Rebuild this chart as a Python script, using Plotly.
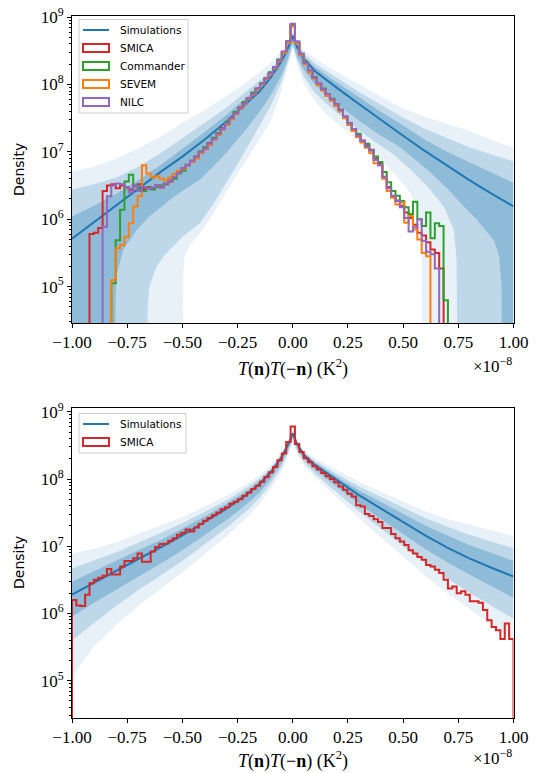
import numpy as np
import plotly.graph_objects as go

W, H = 536, 773

# ---------------- data (x in units of 1e-8 K^2, densities as log10) ----------------
n_bins = 101  # histogram bins spanning [-1, 1], one bin centred on 0

# --- top panel: simulation median and percentile bands
sim_x = [-1.0, -0.9, -0.8, -0.7, -0.6, -0.5, -0.4, -0.3, -0.2, -0.15, -0.1, -0.05, -0.02, 0.0,
         0.02, 0.05, 0.1, 0.15, 0.2, 0.3, 0.4, 0.5, 0.6, 0.7, 0.8, 0.9, 1.0]
sim_top_log = [5.71, 5.96, 6.21, 6.45, 6.70, 6.93, 7.18, 7.45, 7.74, 7.90, 8.10, 8.35, 8.55, 8.72,
               8.55, 8.38, 8.20, 8.07, 7.95, 7.71, 7.47, 7.24, 7.01, 6.79, 6.58, 6.38, 6.19]
outer_up_top_log = [6.71, 6.78, 6.90, 7.05, 7.22, 7.43, 7.62, 7.83, 8.06, 8.18, 8.32, 8.50, 8.65, 8.78,
                    8.64, 8.52, 8.38, 8.28, 8.19, 8.00, 7.82, 7.64, 7.52, 7.42, 7.31, 7.18, 7.06]
mid_up_top_log = [6.44, 6.52, 6.62, 6.78, 6.98, 7.20, 7.43, 7.66, 7.93, 8.06, 8.22, 8.43, 8.60, 8.76,
                  8.60, 8.46, 8.31, 8.20, 8.10, 7.89, 7.70, 7.51, 7.34, 7.20, 7.07, 6.96, 6.86]
inner_up_top_log = [6.04, 6.20, 6.38, 6.58, 6.80, 7.04, 7.29, 7.55, 7.83, 7.98, 8.16, 8.39, 8.58, 8.75,
                    8.58, 8.42, 8.26, 8.14, 8.03, 7.81, 7.59, 7.39, 7.18, 7.00, 6.85, 6.70, 6.54]
# lower percentiles (3.0 == empty, below the axis)
inner_lo_top_x = [-1.0, -0.806, -0.803, -0.797, -0.767, -0.707, -0.65, -0.6, -0.556, -0.5, -0.42, -0.35,
                  -0.3, -0.25, -0.2, -0.15, -0.1, -0.05, -0.02, 0.0, 0.02, 0.05, 0.1, 0.15, 0.2, 0.3,
                  0.4, 0.457, 0.5, 0.609, 0.7, 0.76, 0.835, 0.911, 0.935, 0.946, 0.949, 1.0]
inner_lo_top_log = [3, 3, 4.8, 5.2, 5.55, 5.84, 6.04, 6.17, 6.29, 6.42, 6.59, 6.82,
                    6.99, 7.18, 7.38, 7.60, 7.84, 8.14, 8.40, 8.62, 8.42, 8.22, 8.00, 7.84, 7.71, 7.46,
                    7.24, 7.13, 7.03, 6.74, 6.46, 6.24, 5.99, 5.69, 5.45, 5.0, 3, 3]
mid_lo_top_x = [-1.0, -0.662, -0.657, -0.65, -0.616, -0.585, -0.556, -0.5, -0.42, -0.35, -0.3, -0.25,
                -0.2, -0.15, -0.1, -0.05, -0.02, 0.0, 0.02, 0.05, 0.1, 0.15, 0.2, 0.3, 0.38, 0.457,
                0.533, 0.609, 0.684, 0.73, 0.742, 0.749, 1.0]
mid_lo_top_log = [3, 3, 4.7, 5.0, 5.3, 5.45, 5.55, 5.74, 5.94, 6.28, 6.55, 6.82,
                  7.10, 7.38, 7.68, 8.05, 8.35, 8.58, 8.36, 8.12, 7.88, 7.72, 7.58, 7.32, 7.13, 6.96,
                  6.74, 6.49, 6.19, 5.84, 5.40, 3, 3]
outer_lo_top_x = [-1.0, -0.499, -0.496, -0.49, -0.465, -0.42, -0.38, -0.34, -0.3, -0.25, -0.2, -0.15,
                  -0.1, -0.05, -0.02, 0.0, 0.02, 0.05, 0.1, 0.15, 0.2, 0.25, 0.306, 0.38, 0.457, 0.533,
                  0.57, 0.58, 0.585, 0.587, 1.0]
outer_lo_top_log = [3, 3, 5.2, 5.45, 5.62, 5.80, 5.98, 6.20, 6.42, 6.68, 6.93, 7.18,
                    7.45, 7.92, 8.28, 8.54, 8.30, 8.02, 7.76, 7.57, 7.43, 7.30, 7.13, 6.93, 6.69, 6.39,
                    6.09, 5.75, 5.30, 3, 3]

# --- top panel: observed histograms (first bin index, k=0 is the centre bin)
smica_top_start = -46
smica_top_log = [5.78, 5.80, 5.87, 6.42, 6.50, 6.52, 6.46, 6.50, 6.47, 6.44, 6.49, 6.52, 6.45, 6.48,
                 6.46, 6.50, 6.47, 6.52, 6.56, 6.62, 6.70, 6.75, 6.81, 6.86, 6.92, 7.00,
                 7.06, 7.13, 7.20, 7.27, 7.35, 7.43, 7.50, 7.58, 7.66, 7.73, 7.80, 7.87, 7.94, 8.01,
                 8.09, 8.17, 8.26, 8.36, 8.48, 8.63,
                 8.88,
                 8.62, 8.45, 8.32, 8.20, 8.10, 8.01, 7.93, 7.85, 7.78, 7.71, 7.62, 7.52, 7.42, 7.33,
                 7.25, 7.17, 7.10, 7.03, 6.90, 6.82, 6.62, 6.48, 6.33, 6.28, 6.20, 6.10, 6.02, 5.92,
                 5.80, 5.76, 5.66, 5.55, 5.50, 5.27]
commander_top_start = -41
commander_top_log = [5.05, 5.69, 6.14, 6.56, 6.66, 6.50, 6.45, 6.42, 6.47, 6.44, 6.48, 6.50, 6.53, 6.58,
                     6.60, 6.68, 6.72, 6.80, 6.87, 6.93, 7.01,
                     7.07, 7.12, 7.21, 7.28, 7.34, 7.44, 7.49, 7.59, 7.65, 7.74, 7.79, 7.88, 7.93, 8.02,
                     8.08, 8.18, 8.25, 8.37, 8.47, 8.64,
                     8.87,
                     8.63, 8.44, 8.33, 8.19, 8.11, 8.00, 7.94, 7.84, 7.79, 7.70, 7.63, 7.51, 7.43, 7.32,
                     7.27, 7.16, 7.12, 7.02, 6.93, 6.85, 6.70, 6.55, 6.42, 6.35, 6.27, 6.18, 6.08, 6.26,
                     6.00, 5.90, 6.10, 5.72, 5.94, 5.90, 4.80]
sevem_top_start = -41
sevem_top_log = [5.10, 5.57, 5.62, 5.74, 5.94, 6.19, 6.34, 6.80, 6.68, 6.62, 6.64, 6.60, 6.58, 6.62,
                 6.67, 6.72, 6.75, 6.80, 6.85, 6.90, 6.98,
                 7.04, 7.10, 7.18, 7.25, 7.33, 7.40, 7.48, 7.56, 7.64, 7.71, 7.79, 7.85, 7.93, 8.00,
                 8.08, 8.16, 8.25, 8.35, 8.47, 8.62,
                 8.86,
                 8.61, 8.44, 8.30, 8.18, 8.09, 7.99, 7.91, 7.83, 7.76, 7.68, 7.60, 7.50, 7.40, 7.31,
                 7.22, 7.14, 7.06, 6.98, 6.83, 6.80, 6.60, 6.42, 6.32, 6.22, 6.25, 5.95, 6.05, 5.85,
                 5.70, 5.50, 5.45]
nilc_top_start = -43
nilc_top_log = [5.89, 6.34, 6.50, 6.53, 6.52, 6.48, 6.40, 6.50, 6.42, 6.48, 6.45, 6.47, 6.50, 6.48,
                6.53, 6.57, 6.63, 6.69, 6.76, 6.80, 6.87, 6.93, 7.00,
                7.05, 7.12, 7.19, 7.27, 7.34, 7.42, 7.50, 7.57, 7.65, 7.72, 7.80, 7.86, 7.94, 8.01,
                8.09, 8.17, 8.26, 8.36, 8.49, 8.64,
                8.90,
                8.64, 8.46, 8.32, 8.21, 8.10, 8.02, 7.93, 7.86, 7.78, 7.71, 7.62, 7.53, 7.42, 7.34,
                7.24, 7.16, 7.08, 7.02, 6.88, 6.80, 6.63, 6.46, 6.35, 6.27, 6.18, 6.02, 5.82, 5.88,
                6.00, 5.68, 5.52, 5.48, 5.27]

# --- bottom panel: simulation median and percentile bands (same x grid)
sim_bot_log = [6.28, 6.46, 6.63, 6.81, 6.98, 7.16, 7.36, 7.56, 7.79, 7.93, 8.10, 8.33, 8.52, 8.68,
               8.52, 8.36, 8.21, 8.10, 7.98, 7.76, 7.56, 7.36, 7.16, 6.98, 6.82, 6.68, 6.55]
outer_up_bot_log = [6.89, 6.96, 7.06, 7.18, 7.30, 7.43, 7.59, 7.75, 7.94, 8.06, 8.20, 8.40, 8.58, 8.73,
                    8.57, 8.42, 8.31, 8.22, 8.13, 7.96, 7.81, 7.66, 7.52, 7.41, 7.32, 7.24, 7.15]
mid_up_bot_log = [6.67, 6.79, 6.91, 7.05, 7.19, 7.34, 7.51, 7.68, 7.89, 8.01, 8.16, 8.37, 8.56, 8.71,
                  8.55, 8.40, 8.27, 8.17, 8.07, 7.89, 7.73, 7.57, 7.42, 7.29, 7.17, 7.07, 6.97]
inner_up_bot_log = [6.47, 6.63, 6.78, 6.94, 7.09, 7.26, 7.44, 7.63, 7.84, 7.97, 8.13, 8.35, 8.54, 8.70,
                    8.54, 8.38, 8.24, 8.14, 8.03, 7.83, 7.66, 7.48, 7.31, 7.16, 7.02, 6.90, 6.78]
inner_lo_bot_log = [5.95, 6.16, 6.35, 6.55, 6.74, 6.94, 7.16, 7.39, 7.65, 7.80, 8.00, 8.24, 8.45, 8.62,
                    8.46, 8.30, 8.14, 8.01, 7.88, 7.63, 7.40, 7.18, 6.96, 6.76, 6.58, 6.40, 6.23]
mid_lo_bot_log = [5.60, 5.86, 6.11, 6.35, 6.56, 6.78, 7.02, 7.27, 7.55, 7.72, 7.93, 8.18, 8.40, 8.58,
                  8.42, 8.25, 8.08, 7.94, 7.80, 7.52, 7.26, 7.00, 6.75, 6.52, 6.31, 6.11, 5.92]
outer_lo_bot_log = [5.06, 5.51, 5.83, 6.11, 6.36, 6.61, 6.88, 7.15, 7.45, 7.63, 7.85, 8.12, 8.35, 8.53,
                    8.38, 8.20, 8.03, 7.87, 7.72, 7.42, 7.13, 6.84, 6.56, 6.30, 6.06, 5.83, 5.60]

smica_bot_start = -50
smica_bot_log = [6.20, 6.12, 6.11, 6.28, 6.45, 6.50, 6.53, 6.56, 6.66, 6.58,
                 6.58, 6.70, 6.78, 6.78, 6.82, 6.89, 6.77, 6.77, 6.92, 6.99,
                 7.03, 7.04, 7.08, 7.12, 7.17, 7.20, 7.25, 7.22, 7.28, 7.33,
                 7.38, 7.42, 7.46, 7.50, 7.55, 7.58, 7.63, 7.66, 7.70, 7.75,
                 7.80, 7.85, 7.90, 7.96, 8.03, 8.10, 8.18, 8.28, 8.38, 8.55,
                 8.78,
                 8.52, 8.40, 8.31, 8.25, 8.19, 8.14, 8.09, 8.04, 8.00, 7.95,
                 7.89, 7.84, 7.78, 7.74, 7.61, 7.59, 7.48, 7.45, 7.40, 7.36,
                 7.27, 7.27, 7.18, 7.12, 7.07, 7.02, 6.94, 6.89, 6.84, 6.80,
                 6.72, 6.70, 6.65, 6.60, 6.50, 6.37, 6.40, 6.30, 6.33, 6.28,
                 6.18, 6.18, 6.16, 6.05, 5.90, 5.80, 5.75, 5.62, 5.85, 5.62]

x_ticks = [-1.0, -0.75, -0.5, -0.25, 0.0, 0.25, 0.5, 0.75, 1.0]
x_ticktext = ["\u22121.00", "\u22120.75", "\u22120.50", "\u22120.25", "0.00", "0.25", "0.50", "0.75", "1.00"]
y_ticks = [1e5, 1e6, 1e7, 1e8, 1e9]
y_ticktext = ["10<sup>5</sup>", "10<sup>6</sup>", "10<sup>7</sup>", "10<sup>8</sup>", "10<sup>9</sup>"]

# ---------------- styling ----------------
C_SIM = "#1f77b4"
C_SMICA, C_COMM, C_SEVEM, C_NILC = "#d62728", "#2ca02c", "#ff7f0e", "#9467bd"
BAND = ["rgba(31,119,180,0.10)", "rgba(31,119,180,0.20)", "rgba(31,119,180,0.30)"]
SERIF = "Liberation Serif"
SANS = "DejaVu Sans"

edges = np.linspace(-1.0, 1.0, n_bins + 1)
FLOOR = 1.0


def pw(v):
    return [10.0 ** a for a in v]


def step_path(start_k, vals):
    i0 = start_k + n_bins // 2
    xs, ys = [edges[i0]], [FLOOR]
    for j, v in enumerate(vals):
        xs += [edges[i0 + j], edges[i0 + j + 1]]
        ys += [10.0 ** v, 10.0 ** v]
    xs.append(edges[i0 + len(vals)])
    ys.append(FLOOR)
    return xs, ys


fig = go.Figure()


def add_band(xu, up, xl, lo, color, xa, ya):
    fig.add_trace(go.Scatter(x=list(xu) + list(xl)[::-1], y=pw(up) + pw(lo)[::-1], fill="toself",
                             fillcolor=color, line=dict(width=0), mode="lines", hoverinfo="skip",
                             showlegend=False, xaxis=xa, yaxis=ya))


# top panel
add_band(sim_x, outer_up_top_log, outer_lo_top_x, outer_lo_top_log, BAND[0], "x", "y")
add_band(sim_x, mid_up_top_log, mid_lo_top_x, mid_lo_top_log, BAND[1], "x", "y")
add_band(sim_x, inner_up_top_log, inner_lo_top_x, inner_lo_top_log, BAND[2], "x", "y")
fig.add_trace(go.Scatter(x=sim_x, y=pw(sim_top_log), mode="lines", line=dict(color=C_SIM, width=2),
                         showlegend=False, xaxis="x", yaxis="y"))
for start, vals, col in [(smica_top_start, smica_top_log, C_SMICA),
                         (commander_top_start, commander_top_log, C_COMM),
                         (sevem_top_start, sevem_top_log, C_SEVEM),
                         (nilc_top_start, nilc_top_log, C_NILC)]:
    sx, sy = step_path(start, vals)
    fig.add_trace(go.Scatter(x=sx, y=sy, mode="lines", line=dict(color=col, width=2),
                             showlegend=False, xaxis="x", yaxis="y"))

# bottom panel
add_band(sim_x, outer_up_bot_log, sim_x, outer_lo_bot_log, BAND[0], "x2", "y2")
add_band(sim_x, mid_up_bot_log, sim_x, mid_lo_bot_log, BAND[1], "x2", "y2")
add_band(sim_x, inner_up_bot_log, sim_x, inner_lo_bot_log, BAND[2], "x2", "y2")
fig.add_trace(go.Scatter(x=sim_x, y=pw(sim_bot_log), mode="lines", line=dict(color=C_SIM, width=2),
                         showlegend=False, xaxis="x2", yaxis="y2"))
sx, sy = step_path(smica_bot_start, smica_bot_log)
fig.add_trace(go.Scatter(x=sx, y=sy, mode="lines", line=dict(color=C_SMICA, width=2),
                         showlegend=False, xaxis="x2", yaxis="y2"))

# ---------------- axes ----------------
def px_x(p):
    return p / W


def px_y(p):
    return 1.0 - p / H


X0, X1 = 72.0, 513.5
minor_vals = [m * 10.0 ** e for e in range(4, 10) for m in range(2, 10)]

xcommon = dict(range=[-1, 1], tickmode="array", tickvals=x_ticks, ticktext=x_ticktext,
               ticks="outside", ticklen=4, tickwidth=1, tickcolor="black",
               showline=True, linecolor="black", linewidth=1, mirror=True,
               showgrid=False, zeroline=False, automargin=False,
               tickfont=dict(family=SERIF, size=17, color="black"), domain=[px_x(X0), px_x(X1)])
ycommon = dict(type="log", tickmode="array", tickvals=y_ticks, ticktext=y_ticktext,
               ticks="outside", ticklen=4, tickwidth=1, tickcolor="black",
               minor=dict(tickmode="array", tickvals=minor_vals, ticks="outside", ticklen=2,
                          tickwidth=0.8, tickcolor="black"),
               showline=True, linecolor="black", linewidth=1, mirror=True,
               showgrid=False, zeroline=False, automargin=False,
               tickfont=dict(family=SERIF, size=17, color="black"))

fig.update_layout(
    template="none",
    width=W, height=H, autosize=False,
    margin=dict(l=0, r=0, t=0, b=0, pad=0),
    paper_bgcolor="white", plot_bgcolor="white",
    showlegend=False,
    xaxis=dict(xcommon, anchor="y"),
    yaxis=dict(ycommon, anchor="x", range=[4.461, 9.016], domain=[px_y(323), px_y(16)]),
    xaxis2=dict(xcommon, anchor="y2"),
    yaxis2=dict(ycommon, anchor="x2", range=[4.445, 9.056], domain=[px_y(718), px_y(408)]),
)

shapes = []
annotations = []


def text(xp, yp, s, size, family, xanchor="center", angle=0):
    annotations.append(dict(x=px_x(xp), y=px_y(yp), xref="paper", yref="paper", text=s,
                            showarrow=False, xanchor=xanchor, yanchor="middle", textangle=angle,
                            font=dict(family=family, size=size, color="black")))


xlabel = "<i>T</i>(<b>n</b>)<i>T</i>(\u2212<b>n</b>) (K<sup>2</sup>)"
text(292.5, 368, xlabel, 18, SERIF)
text(X1, 365, "\u00d710<sup>\u22128</sup>", 17, SERIF, xanchor="right")
text(292.5, 760, xlabel, 18, SERIF)
text(X1, 757, "\u00d710<sup>\u22128</sup>", 17, SERIF, xanchor="right")
text(19, 170, "Density", 14, SANS, angle=-90)
text(19, 563, "Density", 14, SANS, angle=-90)


def legend(box, entries):
    x0, y0, x1, y1 = box
    shapes.append(dict(type="rect", xref="paper", yref="paper", x0=px_x(x0), x1=px_x(x1),
                       y0=px_y(y1), y1=px_y(y0), line=dict(color="#cccccc", width=1),
                       fillcolor="rgba(255,255,255,0.8)", layer="above"))
    for yc, label, col, kind in entries:
        if kind == "line":
            shapes.append(dict(type="line", xref="paper", yref="paper", x0=px_x(83), x1=px_x(109),
                               y0=px_y(yc), y1=px_y(yc), line=dict(color=col, width=2), layer="above"))
        else:
            shapes.append(dict(type="rect", xref="paper", yref="paper", x0=px_x(83), x1=px_x(109),
                               y0=px_y(yc + 4), y1=px_y(yc - 4), line=dict(color=col, width=2),
                               fillcolor="rgba(0,0,0,0)", layer="above"))
        text(117.5, yc, label, 10.5, SANS, xanchor="left")


legend((79, 19.5, 188, 113), [(30, "Simulations", C_SIM, "line"), (48, "SMICA", C_SMICA, "rect"),
                              (66, "Commander", C_COMM, "rect"), (84, "SEVEM", C_SEVEM, "rect"),
                              (102, "NILC", C_NILC, "rect")])
legend((79, 413.5, 186, 453), [(424, "Simulations", C_SIM, "line"), (442, "SMICA", C_SMICA, "rect")])

fig.update_layout(shapes=shapes, annotations=annotations)
fig.write_html("out.html", config={"displayModeBar": False},
               post_script="document.body.style.margin='0';document.body.style.padding='0';")
